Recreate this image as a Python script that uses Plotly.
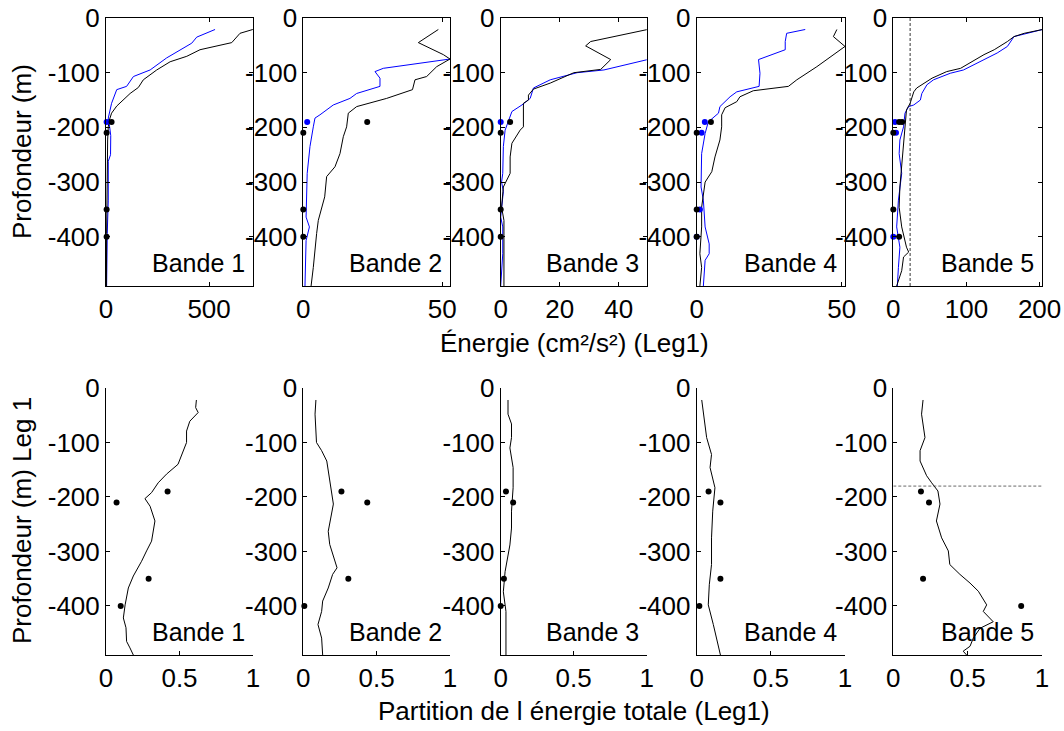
import plotly.graph_objects as go

# ---------------- data ----------------
bands = ["Bande 1", "Bande 2", "Bande 3", "Bande 4", "Bande 5"]
dot_depths = [-190, -210, -350, -400]

# Top row: energy (cm²/s²) profiles, black and blue
e1_blk_x = [712, 650, 610, 456, 392, 311, 246, 181, 157, 117, 52, 27, 16, 11, 8, 6, 5, 3, 2]
e1_blk_z = [-21, -28, -45, -58, -70, -80, -95, -113, -127, -138, -161, -174, -187, -199, -223, -272, -333, -394, -490]
e1_blu_x = [529, 440, 416, 359, 294, 214, 133, 100, 52, 27, 11, 18, 23, 22, 11, 11, 6, 3]
e1_blu_z = [-21, -35, -46, -58, -73, -95, -107, -125, -131, -156, -183, -200, -215, -250, -262, -333, -394, -490]

e2_blk_x = [48.6, 41.4, 50.4, 52.8, 48, 44.4, 40.2, 39.3, 30, 19.2, 16.2, 15.6, 14.4, 13.8, 13.2, 11.4, 8.4, 7.7, 6.5, 5.4, 4.8, 4.2, 3.6, 2.8]
e2_blk_z = [-21, -45, -67, -75, -89, -107, -113, -131, -147, -162, -174, -199, -217, -235, -248, -272, -290, -327, -349, -370, -394, -431, -456, -490]
e2_blu_x = [52.8, 28.8, 25.8, 27.6, 27.6, 19.2, 16.8, 10.8, 6, 4.2, 3.6, 2.4, 1.4, 1.2, 1, 2.2, 1, 0.6]
e2_blu_z = [-75, -92, -98, -110, -125, -138, -147, -159, -177, -183, -199, -235, -284, -333, -364, -382, -407, -490]

e3_blk_x = [49.8, 30.5, 28.8, 37.3, 33.9, 24.8, 16.8, 11.1, 9.4, 9.4, 7.7, 7.7, 6.6, 3.8, 3.2, 3.2, 0.9, 0.3, 1.1, 1.1]
e3_blk_z = [-21, -43, -51, -76, -94, -100, -119, -130, -141, -150, -156, -199, -205, -229, -254, -284, -309, -346, -370, -490]
e3_blu_x = [49.8, 35, 25.9, 16.8, 11.1, 10, 7.2, 3.8, 1.5, 0.9, 0.7, 0.3, 0.9, 0, 0.7, 0.7, 0]
e3_blu_z = [-76, -95, -100, -113, -128, -147, -159, -171, -205, -235, -284, -300, -317, -364, -382, -431, -490]

e4_blk_x = [48.3, 47.1, 51.1, 44.8, 41.4, 34.5, 31.6, 19.5, 14.9, 13.8, 9.8, 8.6, 8.6, 8, 6.3, 5.2, 2.9, 1.7, 1.7, 1.1, 1.7, 1.1]
e4_blk_z = [-21, -34, -52, -76, -89, -113, -125, -133, -144, -153, -164, -177, -199, -223, -254, -281, -300, -346, -382, -431, -456, -490]
e4_blu_x = [37.4, 31, 30.5, 30.5, 21.3, 21.8, 21.5, 13.8, 11.5, 8, 7.5, 4, 2.9, 1.7, 1.5, 2.3, 2.9, 4.3, 4.3, 2.9, 2.3]
e4_blu_z = [-21, -28, -43, -58, -76, -101, -125, -135, -144, -162, -174, -190, -211, -248, -309, -333, -382, -413, -431, -443, -490]

e5_blk_x = [204, 179, 165, 156, 138, 124, 92, 73, 53, 46, 32, 28, 23, 18, 16, 14, 11.5, 9, 8, 11.5, 18, 21, 14, 11.5, 4.6]
e5_blk_z = [-21, -28, -34, -43, -58, -67, -92, -98, -110, -116, -128, -135, -156, -168, -199, -235, -272, -309, -346, -382, -419, -428, -437, -462, -490]
e5_blu_x = [204, 165, 156, 142, 96, 78, 55, 46, 39, 37, 28, 21, 16, 14, 9, 8, 11.5, 7, 4.6, 9, 7, 5.5]
e5_blu_z = [-21, -34, -52, -64, -95, -101, -113, -122, -138, -150, -159, -162, -174, -199, -223, -248, -284, -333, -382, -419, -456, -490]
e5_threshold = 23

# Top row dots
d1_blk_x, d1_blk_z = [27, 3, 3, 3], [-190, -210, -350, -400]
d1_blu_x, d1_blu_z = [3], [-190]
d2_blk_x, d2_blk_z = [23, 0, 0, 0], [-190, -210, -350, -400]
d2_blu_x, d2_blu_z = [1.4], [-190]
d3_blk_x, d3_blk_z = [3.2, 0, 0, 0], [-190, -210, -350, -400]
d3_blu_x, d3_blu_z = [0], [-190]
d4_blk_x, d4_blk_z = [4.9, 0, 0, 0], [-190, -210, -350, -400]
d4_blu_x, d4_blu_z = [2.8, 1.7, 1.1, 0], [-190, -210, -350, -400]
d5_blk_x, d5_blk_z = [8, 12, 0, 0, 8], [-190, -190, -210, -350, -400]
d5_blu_x, d5_blu_z = [2.3, 3.7, 0], [-190, -210, -400]

# Bottom row: partition of total energy
p1_x = [0.615, 0.61, 0.627, 0.57, 0.548, 0.548, 0.49, 0.412, 0.355, 0.31, 0.265, 0.3, 0.333, 0.31, 0.276, 0.242, 0.186, 0.152, 0.13, 0.118, 0.136, 0.14, 0.163, 0.186]
p1_z = [-22, -36, -45, -61, -79, -100, -140, -158, -174, -192, -203, -217, -244, -281, -299, -318, -345, -367, -398, -422, -440, -465, -477, -490]
p2_x = [0.086, 0.08, 0.09, 0.125, 0.16, 0.17, 0.193, 0.205, 0.17, 0.18, 0.23, 0.2, 0.17, 0.132, 0.125, 0.1, 0.125, 0.132]
p2_z = [-22, -48, -100, -115, -134, -152, -189, -213, -263, -287, -330, -342, -367, -391, -410, -434, -459, -490]
p3_x = [0.05, 0.05, 0.074, 0.074, 0.063, 0.085, 0.085, 0.074, 0.074, 0.063, 0.03, 0.018, 0.036, 0.036]
p3_z = [-22, -48, -66, -91, -110, -146, -183, -226, -257, -288, -337, -374, -410, -490]
p4_x = [0.034, 0.045, 0.067, 0.1, 0.09, 0.123, 0.108, 0.1, 0.1, 0.085, 0.078, 0.112, 0.135, 0.16]
p4_z = [-22, -42, -91, -122, -146, -183, -226, -275, -324, -361, -398, -434, -459, -490]
p5_x = [0.2, 0.19, 0.213, 0.18, 0.18, 0.224, 0.258, 0.3, 0.314, 0.29, 0.325, 0.37, 0.38, 0.448, 0.516, 0.572, 0.628, 0.605, 0.672, 0.583, 0.538, 0.516, 0.47, 0.493]
p5_z = [-22, -48, -91, -115, -134, -161, -174, -189, -213, -244, -275, -299, -324, -342, -358, -373, -398, -410, -429, -441, -459, -474, -483, -490]
p5_threshold = -180

q1_x = [0.419, 0.072, 0.29, 0.1]
q2_x = [0.26, 0.436, 0.307, 0.007]
q3_x = [0.036, 0.085, 0.022, 0.0]
q4_x = [0.08, 0.16, 0.16, 0.018]
q5_x = [0.186, 0.24, 0.2, 0.86]

top_ranges = [[0, 713], [0, 52.8], [0, 49.5], [0, 51.1], [0, 203.3]]
top_ticks = [[0, 500], [0, 50], [0, 20, 40], [0, 50], [0, 100, 200]]
bot_ticks = [0, 0.5, 1]
bot_ticktext = ["0", "0.5", "1"]
depth_ticks = [0, -100, -200, -300, -400]
depth_ticktext = ["0", "-100", "-200", "-300", "-400"]

# ---------------- layout geometry ----------------
W, H = 1064, 731
col_px = [(106, 253), (303.3, 450), (500.7, 646.7), (696.7, 845), (893.3, 1042)]
top_px = (18, 286)
bot_px = (388, 655)

FONT = "Liberation Sans, Arial, sans-serif"
BLUE = "#0000ff"
BLACK = "#000000"
TICK_SIZE = 26
LABEL_SIZE = 25
TITLE_SIZE = 26

fig = go.Figure()

top_lines = [
    (e1_blk_x, e1_blk_z, e1_blu_x, e1_blu_z),
    (e2_blk_x, e2_blk_z, e2_blu_x, e2_blu_z),
    (e3_blk_x, e3_blk_z, e3_blu_x, e3_blu_z),
    (e4_blk_x, e4_blk_z, e4_blu_x, e4_blu_z),
    (e5_blk_x, e5_blk_z, e5_blu_x, e5_blu_z),
]
top_dots = [
    (d1_blk_x, d1_blk_z, d1_blu_x, d1_blu_z),
    (d2_blk_x, d2_blk_z, d2_blu_x, d2_blu_z),
    (d3_blk_x, d3_blk_z, d3_blu_x, d3_blu_z),
    (d4_blk_x, d4_blk_z, d4_blu_x, d4_blu_z),
    (d5_blk_x, d5_blk_z, d5_blu_x, d5_blu_z),
]
bot_lines = [(p1_x, p1_z), (p2_x, p2_z), (p3_x, p3_z), (p4_x, p4_z), (p5_x, p5_z)]
bot_dots = [q1_x, q2_x, q3_x, q4_x, q5_x]


def ax_name(i):
    return "" if i == 1 else str(i)


for k in range(5):
    i = k + 1          # top axis index
    xa, ya = "x" + ax_name(i), "y" + ax_name(i)
    bx, by, rx, rz = top_lines[k]
    fig.add_trace(go.Scatter(x=rx, y=rz, mode="lines", line=dict(color=BLUE, width=1), xaxis=xa, yaxis=ya))
    fig.add_trace(go.Scatter(x=bx, y=by, mode="lines", line=dict(color=BLACK, width=1), xaxis=xa, yaxis=ya))
    kx, kz, ux, uz = top_dots[k]
    fig.add_trace(go.Scatter(x=ux, y=uz, mode="markers", marker=dict(color=BLUE, size=6), cliponaxis=False, xaxis=xa, yaxis=ya))
    fig.add_trace(go.Scatter(x=kx, y=kz, mode="markers", marker=dict(color=BLACK, size=6), cliponaxis=False, xaxis=xa, yaxis=ya))
    if k == 4:
        fig.add_trace(go.Scatter(x=[e5_threshold, e5_threshold], y=[0, -490], mode="lines",
                                 line=dict(color=BLACK, width=0.8, dash="3px,2px"), xaxis=xa, yaxis=ya))

    j = k + 6          # bottom axis index
    xb, yb = "x" + ax_name(j), "y" + ax_name(j)
    px_, pz_ = bot_lines[k]
    fig.add_trace(go.Scatter(x=px_, y=pz_, mode="lines", line=dict(color=BLACK, width=1), xaxis=xb, yaxis=yb))
    fig.add_trace(go.Scatter(x=bot_dots[k], y=dot_depths, mode="markers", marker=dict(color=BLACK, size=6),
                             cliponaxis=False, xaxis=xb, yaxis=yb))
    if k == 4:
        fig.add_trace(go.Scatter(x=[0, 1], y=[p5_threshold, p5_threshold], mode="lines",
                                 line=dict(color="#444444", width=0.8, dash="3px,2px"), xaxis=xb, yaxis=yb))

common = dict(showgrid=False, zeroline=False, showline=True, linecolor=BLACK, linewidth=1, automargin=False,
              ticks="inside", ticklen=4, tickcolor=BLACK, tickfont=dict(family=FONT, size=TICK_SIZE, color=BLACK))

layout = {}
annotations = []
for k in range(5):
    x0, x1 = col_px[k]
    xdom = [x0 / W, x1 / W]
    for row, (ypx, idx) in enumerate([(top_px, k + 1), (bot_px, k + 6)]):
        ydom = [1 - ypx[1] / H, 1 - ypx[0] / H]
        n = ax_name(idx)
        mirror = "ticks" if row == 0 else False
        if row == 0:
            xcfg = dict(range=top_ranges[k], tickvals=top_ticks[k], ticktext=[str(t) for t in top_ticks[k]])
        else:
            xcfg = dict(range=[0, 1], tickvals=bot_ticks, ticktext=bot_ticktext)
        layout["xaxis" + n] = dict(domain=xdom, anchor="y" + n, mirror=mirror, **xcfg, **common)
        layout["yaxis" + n] = dict(domain=ydom, anchor="x" + n, mirror=mirror, range=[-490, 0],
                                   tickvals=depth_ticks, ticktext=depth_ticktext, **common)
        annotations.append(dict(text=bands[k], xref="x" + n + " domain", yref="y" + n, x=0.96, y=-448,
                                xanchor="right", yanchor="middle", showarrow=False,
                                font=dict(family=FONT, size=LABEL_SIZE, color=BLACK)))

annotations += [
    dict(text="Profondeur (m)", xref="paper", yref="paper", x=22 / W, y=1 - 152 / H, textangle=-90,
         showarrow=False, xanchor="center", yanchor="middle", font=dict(family=FONT, size=TITLE_SIZE, color=BLACK)),
    dict(text="Profondeur (m) Leg 1", xref="paper", yref="paper", x=22 / W, y=1 - 521 / H, textangle=-90,
         showarrow=False, xanchor="center", yanchor="middle", font=dict(family=FONT, size=TITLE_SIZE, color=BLACK)),
    dict(text="Énergie (cm²/s²) (Leg1)", xref="paper", yref="paper", x=574 / W, y=1 - 343 / H,
         showarrow=False, xanchor="center", yanchor="middle", font=dict(family=FONT, size=TITLE_SIZE, color=BLACK)),
    dict(text="Partition de l énergie totale (Leg1)", xref="paper", yref="paper", x=574 / W, y=1 - 711 / H,
         showarrow=False, xanchor="center", yanchor="middle", font=dict(family=FONT, size=TITLE_SIZE, color=BLACK)),
]

fig.update_layout(
    width=W, height=H, margin=dict(l=0, r=0, t=0, b=0),
    paper_bgcolor="white", plot_bgcolor="white", showlegend=False,
    annotations=annotations, **layout,
)

fig.write_html("out.html", config={"displayModeBar": False},
               post_script="document.body.style.margin='0';document.body.style.overflow='hidden';")
